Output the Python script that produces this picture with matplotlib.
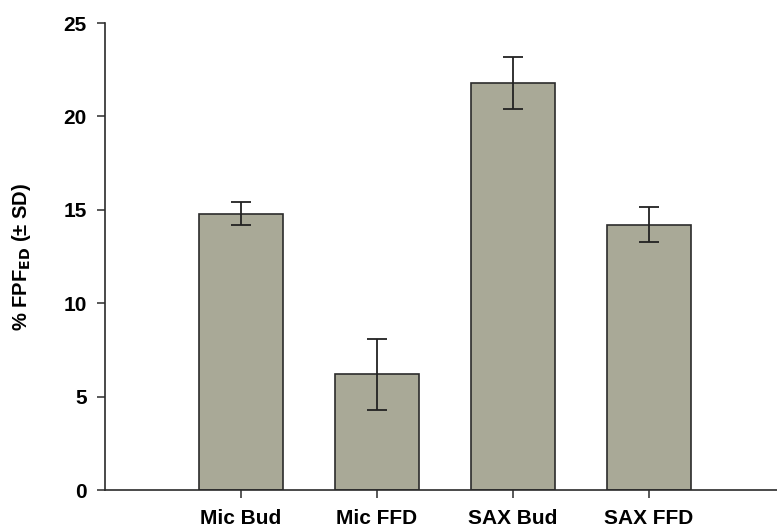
import matplotlib.pyplot as plt

plt.rcParams["font.family"] = ["Liberation Sans", "DejaVu Sans"]
plt.rcParams["font.weight"] = "bold"

# Data
groups = ["Mic Bud", "Mic FFD", "SAX Bud", "SAX FFD"]
fpf_mean = [14.8, 6.2, 21.8, 14.2]
fpf_sd = [0.62, 1.9, 1.4, 0.93]

fig = plt.figure(figsize=(7.77, 5.29), dpi=100)
ax = fig.add_axes([0.1351, 0.0737, 0.8649, 0.8828])

x = range(len(groups))
ax.bar(x, fpf_mean, width=0.613, color="#a9a997", edgecolor="#2b2b2b", linewidth=1.2,
       yerr=fpf_sd, capsize=7, error_kw=dict(ecolor="#222222", elinewidth=1.3, capthick=1.3))

ax.set_xlim(-1.0, 3.94)
ax.set_ylim(0, 25)
ax.set_yticks([0, 5, 10, 15, 20, 25])
ax.set_xticks(list(x))
ax.set_xticklabels(groups)

ax.spines["top"].set_visible(False)
ax.spines["right"].set_visible(False)
for s in ("left", "bottom"):
    ax.spines[s].set_color("#2b2b2b")
    ax.spines[s].set_linewidth(1.2)

ax.tick_params(axis="both", direction="out", length=5.5, width=1.1, color="#2b2b2b",
               labelsize=15)
ax.tick_params(axis="y", pad=7.5)
ax.tick_params(axis="x", pad=8)
for lbl in ax.get_xticklabels() + ax.get_yticklabels():
    lbl.set_fontweight("bold")

ax.set_ylabel("% FPF$_{\\mathbf{ED}}$ (± SD)", fontsize=14.5, fontweight="bold", labelpad=22)

fig.savefig("out.png", dpi=100)
